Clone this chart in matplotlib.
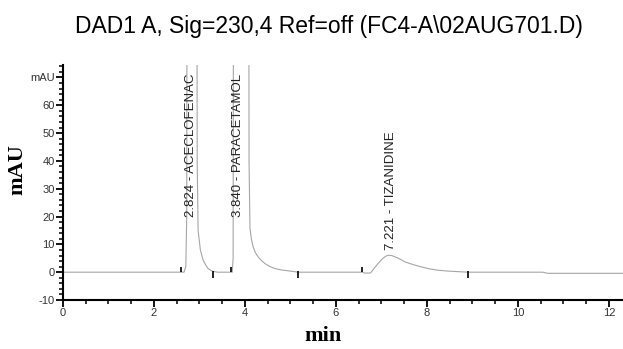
import matplotlib
matplotlib.use("Agg")
import matplotlib.pyplot as plt
from matplotlib.ticker import MultipleLocator

# chromatogram trace (min, mAU); tall peaks go off-scale
time_min = [0, 2.66, 2.70, 2.72, 2.74, 2.93, 2.95, 2.97, 3.02, 3.08, 3.14, 3.19,
            3.25, 3.30, 3.40, 3.72, 3.74, 3.76, 4.07, 4.09, 4.11, 4.14, 4.18, 4.23,
            4.29, 4.36, 4.44, 4.55, 4.66, 4.80, 4.95, 5.17, 6.58, 6.62, 6.76, 6.82,
            6.92, 7.02, 7.10, 7.15, 7.22, 7.35, 7.52, 7.70, 7.88, 8.05, 8.25, 8.45,
            8.62, 8.91, 10.55, 10.65, 12.31]
signal_mau = [0, 0, 2, 20, 300, 300, 40, 15, 8, 4.3, 2.5, 1.3,
              0.6, 0.3, 0, 0, 5, 300, 300, 40, 16, 12, 9.1, 7,
              5.5, 4.2, 3.1, 2.0, 1.3, 0.8, 0.5, 0, 0, -0.3, -0.3, 1,
              3, 4.8, 5.8, 6.1, 6.0, 5.2, 3.7, 2.7, 1.9, 1.2, 0.7, 0.4,
              0.25, 0, 0, -0.4, -0.4]

# integration start / end marks
start_marks = [2.59, 3.69, 6.58]
end_marks = [3.29, 5.17, 8.91]

# peak annotations
peak_rt = [2.824, 3.840, 7.221]
peak_names = ["ACECLOFENAC", "PARACETAMOL", "TIZANIDINE"]
label_y = [20, 20, 8]

title = r"DAD1 A, Sig=230,4 Ref=off (FC4-A\02AUG701.D)"

fig = plt.figure(figsize=(6.23, 3.49), dpi=100)
ax = fig.add_axes([0.1011, 0.1404, 0.8989, 0.6734])

ax.plot(time_min, signal_mau, color="#a6a6a6", lw=0.8)
ax.vlines(start_marks, 0, 2.0, color="black", lw=1.2)
ax.vlines(end_marks, -2.0, 0.5, color="black", lw=1.2)

for rt, name, y in zip(peak_rt, peak_names, label_y):
    ax.text(rt, y, f"{rt:.3f} - {name}", rotation=90, ha="center", va="bottom",
            fontsize=9.5, family="Liberation Sans", color="#222222")

ax.set_xlim(0, 12.31)
ax.set_ylim(-10, 74.5)

ax.xaxis.set_major_locator(MultipleLocator(2))
ax.xaxis.set_minor_locator(MultipleLocator(0.5))
ax.set_yticks([-10, 0, 10, 20, 30, 40, 50, 60, 70])
ax.set_yticklabels(["-10", "0", "10", "20", "30", "40", "50", "60", "mAU"])
ax.yaxis.set_minor_locator(MultipleLocator(2))

for side in ["top", "right"]:
    ax.spines[side].set_visible(False)
for side in ["left", "bottom"]:
    ax.spines[side].set_linewidth(1.5)

ax.tick_params(which="major", direction="out", length=5, width=1.3,
               labelsize=8, pad=1, labelcolor="#333333")
ax.tick_params(which="minor", direction="out", length=3, width=1.1)
for lab in ax.get_xticklabels() + ax.get_yticklabels():
    lab.set_family("Liberation Sans")

fig.text(329 / 623, 1 - 27 / 349, title, ha="center", va="center",
         fontsize=16.5, family="Liberation Sans")
fig.text(17 / 623, 1 - 170 / 349, "mAU", rotation=90, ha="center", va="center",
         fontsize=16, family="Liberation Serif", weight="bold")
fig.text(323 / 623, 1 - 336 / 349, "min", ha="center", va="center",
         fontsize=16, family="Liberation Serif", weight="bold")

fig.savefig("out.png", dpi=100)
